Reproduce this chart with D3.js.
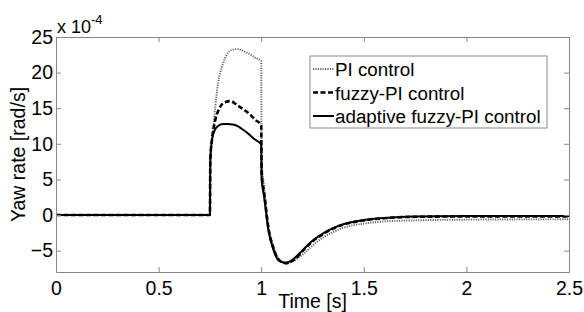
<!DOCTYPE html>
<html>
<head>
<meta charset="utf-8">
<script src="https://cdn.jsdelivr.net/npm/d3@7.9.0/dist/d3.min.js"></script>
<style>
  body { margin: 0; background: #fff; }
  svg { display: block; font-family: "Liberation Sans", Arial, sans-serif; }
</style>
</head>
<body>
<svg id="chart" width="584" height="312"></svg>
<script>
// time grid [s] and yaw rate (x 10^-4 rad/s)
const time = [0, 0.75, 0.752, 0.76, 0.767, 0.775, 0.79, 0.8, 0.815, 0.83, 0.845, 0.86, 0.875, 0.89, 0.9,
  0.93, 0.95, 0.97, 1.0, 1.002, 1.014, 1.035, 1.06, 1.08, 1.1, 1.12, 1.14, 1.16, 1.2, 1.25, 1.3,
  1.35, 1.4, 1.5, 1.6, 1.75, 2.0, 2.5];
const yawPI = [0, 0, 7.7, 10.6, 12.4, 14.8, 18.6, 19.9, 21.4, 22.4, 23.0, 23.2, 23.3, 23.3, 23.2,
  22.8, 22.5, 22.1, 21.6, 8.0, 4.0, -1.4, -4.4, -5.9, -6.6, -6.8, -6.7, -6.4, -5.6, -4.3, -3.2,
  -2.4, -1.8, -1.2, -0.9, -0.75, -0.65, -0.6];
const yawFuzzy = [0, 0, 7.7, 10.6, 12.0, 13.2, 14.6, 15.2, 15.7, 15.9, 16.0, 15.9, 15.6, 15.3, 15.1,
  14.5, 14.0, 13.4, 12.6, 6.0, 3.2, -1.8, -4.7, -6.1, -6.6, -6.75, -6.6, -6.3, -5.1, -3.7, -2.7,
  -1.9, -1.35, -0.75, -0.45, -0.25, -0.2, -0.2];
const yawAdaptive = [0, 0, 7.7, 10.5, 11.4, 12.0, 12.5, 12.7, 12.8, 12.8, 12.75, 12.7, 12.6, 12.4, 12.2,
  11.6, 11.1, 10.6, 9.9, 5.0, 2.6, -2.1, -4.9, -6.2, -6.6, -6.7, -6.5, -6.1, -5.0, -3.6, -2.6,
  -1.85, -1.3, -0.7, -0.4, -0.2, -0.15, -0.15];

const xTicks = [0, 0.5, 1, 1.5, 2, 2.5];
const yTicks = [-5, 0, 5, 10, 15, 20, 25];
const legendLabels = ["PI control", "fuzzy-PI control", "adaptive fuzzy-PI control"];

const margin = { left: 56, right: 15, top: 37, bottom: 40 };
const width = 584, height = 312;
const svg = d3.select("#chart");

const x = d3.scaleLinear().domain([0, 2.5]).range([margin.left, width - margin.right]);
const y = d3.scaleLinear().domain([-8, 25]).range([height - margin.bottom, margin.top]);

const axisColor = "#888";
const tickLen = 5;
const fontSize = "19.5px";

// lines
const series = [
  { values: yawPI, stroke: "#666", width: 1.9, dash: "1.2,1.2" },
  { values: yawFuzzy, stroke: "#000", width: 2.6, dash: "5,2.5" },
  { values: yawAdaptive, stroke: "#000", width: 2, dash: null }
];
const line = d3.line().x(d => x(d[0])).y(d => y(d[1])).curve(d3.curveMonotoneX);

const plot = svg.append("g");
series.forEach(s => {
  plot.append("path")
    .datum(time.map((t, i) => [t, s.values[i]]))
    .attr("d", line)
    .attr("fill", "none")
    .attr("stroke", s.stroke)
    .attr("stroke-width", s.width)
    .attr("stroke-dasharray", s.dash);
});

// axes: bottom/left with labels, top/right ticks only
const gx = svg.append("g").attr("transform", `translate(0,${y(-8)})`)
  .call(d3.axisBottom(x).tickValues(xTicks).tickSizeInner(-tickLen).tickSizeOuter(0)
    .tickPadding(9).tickFormat(d3.format("")));
const gy = svg.append("g").attr("transform", `translate(${x(0)},0)`)
  .call(d3.axisLeft(y).tickValues(yTicks).tickSizeInner(-tickLen).tickSizeOuter(0)
    .tickPadding(3).tickFormat(d3.format("")));
const gt = svg.append("g").attr("transform", `translate(0,${y(25)})`)
  .call(d3.axisTop(x).tickValues(xTicks).tickSizeInner(-tickLen).tickSizeOuter(0).tickFormat(""));
const gr = svg.append("g").attr("transform", `translate(${x(2.5)},0)`)
  .call(d3.axisRight(y).tickValues(yTicks).tickSizeInner(-tickLen).tickSizeOuter(0).tickFormat(""));

[gx, gy, gt, gr].forEach(g => {
  g.selectAll("path, line").attr("stroke", axisColor);
  g.selectAll("text").attr("fill", "#000").style("font-size", fontSize)
    .style("font-family", "'Liberation Sans', Arial, sans-serif");
});

// exponent label
const expo = svg.append("text").attr("x", 57).attr("y", 33)
  .style("font-size", "18px");
expo.append("tspan").text("x 10");
expo.append("tspan").attr("dy", -9).style("font-size", "13px").text("-4");

// axis titles
svg.append("text")
  .attr("x", (x(0) + x(2.5)) / 2).attr("y", 308)
  .attr("text-anchor", "middle").style("font-size", fontSize)
  .text("Time [s]");
svg.append("text")
  .attr("transform", `translate(25,${(y(-8) + y(25)) / 2}) rotate(-90)`)
  .attr("text-anchor", "middle").style("font-size", fontSize)
  .text("Yaw rate [rad/s]");

// legend
const legend = svg.append("g").attr("transform", "translate(310,56)");
legend.append("rect").attr("width", 237).attr("height", 72)
  .attr("fill", "#fff").attr("stroke", axisColor).attr("stroke-width", 1);
legendLabels.forEach((label, i) => {
  const cy = 13 + i * 23.5;
  legend.append("line")
    .attr("x1", 3).attr("x2", 24).attr("y1", cy).attr("y2", cy)
    .attr("stroke", series[i].stroke).attr("stroke-width", series[i].width)
    .attr("stroke-dasharray", series[i].dash);
  legend.append("text").attr("x", 25).attr("y", cy + 7)
    .style("font-size", "18.8px").text(label);
});
</script>
</body>
</html>
